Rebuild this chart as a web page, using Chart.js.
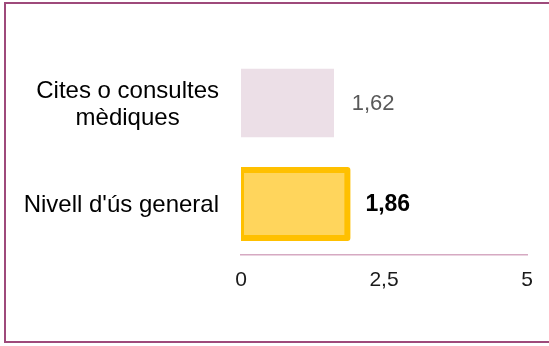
<!DOCTYPE html>
<html>
<head>
<meta charset="utf-8">
<script src="https://cdn.jsdelivr.net/npm/chart.js@4/dist/chart.umd.min.js"></script>
<style>
  html, body { margin: 0; padding: 0; background: #ffffff; }
  #wrap { position: relative; width: 549px; height: 346px; overflow: hidden; }
  #frame { position: absolute; left: 4px; top: 2px; width: 600px; height: 337px;
           border: 2px solid #9e4a7b; box-sizing: content-box; }
  canvas { position: absolute; left: 0; top: 0; }
</style>
</head>
<body>
<div id="wrap">
  <div id="frame"></div>
  <canvas id="c" width="549" height="346"></canvas>
</div>
<script>
const categories = [["Cites o consultes", "mèdiques"], ["Nivell d'ús general"]];
const values = [1.62, 1.86];
const xTicks = [0, 2.5, 5];
const barColors = ["#ecdfe7", "#ffd55c"];
const FONT = "'Liberation Sans', Arial, sans-serif";

const fmt = v => String(v).replace('.', ',');

const customDraw = {
  id: 'customDraw',
  afterDatasetsDraw(chart) {
    const ctx = chart.ctx;
    const meta = chart.getDatasetMeta(0);
    const area = chart.chartArea;
    const el = meta.data[1];
    if (el) {
      const p = el.getProps(['x', 'y', 'base', 'height'], true);
      ctx.save();
      ctx.beginPath();
      ctx.rect(area.left, 0, chart.width - area.left, chart.height);
      ctx.clip();
      ctx.strokeStyle = '#ffc000';
      ctx.lineWidth = 6;
      ctx.lineJoin = 'round';
      ctx.strokeRect(p.base, p.y - p.height / 2, p.x - p.base, p.height);
      ctx.restore();
    }
    meta.data.forEach((bar, i) => {
      const p = bar.getProps(['x', 'y'], true);
      ctx.save();
      ctx.textBaseline = 'middle';
      ctx.textAlign = 'left';
      if (i === 1) {
        ctx.font = 'bold 23px ' + FONT;
        ctx.fillStyle = '#000000';
      } else {
        ctx.font = '22px ' + FONT;
        ctx.fillStyle = '#595959';
      }
      ctx.fillText(fmt(values[i]), p.x + 18, p.y + 1);
      ctx.restore();
    });
    const yScale = chart.scales.y;
    const rightEdge = 219;
    const lineH = 27;
    ctx.save();
    ctx.font = '24px ' + FONT;
    ctx.fillStyle = '#000000';
    ctx.textAlign = 'center';
    ctx.textBaseline = 'middle';
    categories.forEach((lines, i) => {
      const cy = yScale.getPixelForValue(i) + 1.5;
      const w = Math.max(...lines.map(l => ctx.measureText(l).width));
      const cx = rightEdge - w / 2;
      const startY = cy - (lines.length - 1) * lineH / 2;
      lines.forEach((l, j) => ctx.fillText(l, cx, startY + j * lineH));
    });
    ctx.restore();
  }
};

new Chart(document.getElementById('c'), {
  type: 'bar',
  data: {
    labels: categories,
    datasets: [{
      data: values,
      backgroundColor: barColors,
      borderWidth: 0,
      barThickness: 68
    }]
  },
  options: {
    indexAxis: 'y',
    responsive: false,
    animation: false,
    devicePixelRatio: 1,
    layout: { padding: { left: 0, right: 22, top: 52.5, bottom: 0 } },
    plugins: { legend: { display: false }, tooltip: { enabled: false } },
    scales: {
      x: {
        min: 0, max: 5,
        afterBuildTicks: s => { s.ticks = xTicks.map(v => ({ value: v })); },
        afterFit: s => { s.height = 346 - 254.5; },
        grid: { display: false, drawTicks: false },
        border: { display: true, color: '#d6a9c2', width: 1.5 },
        ticks: {
          padding: 13,
          color: '#1a1a1a',
          font: { family: FONT, size: 21 },
          callback: v => fmt(v),
          maxRotation: 0
        }
      },
      y: {
        afterFit: s => { s.width = 241; },
        grid: { display: false, drawTicks: false },
        border: { display: false },
        ticks: { display: false }
      }
    }
  },
  plugins: [customDraw]
});
</script>
</body>
</html>
